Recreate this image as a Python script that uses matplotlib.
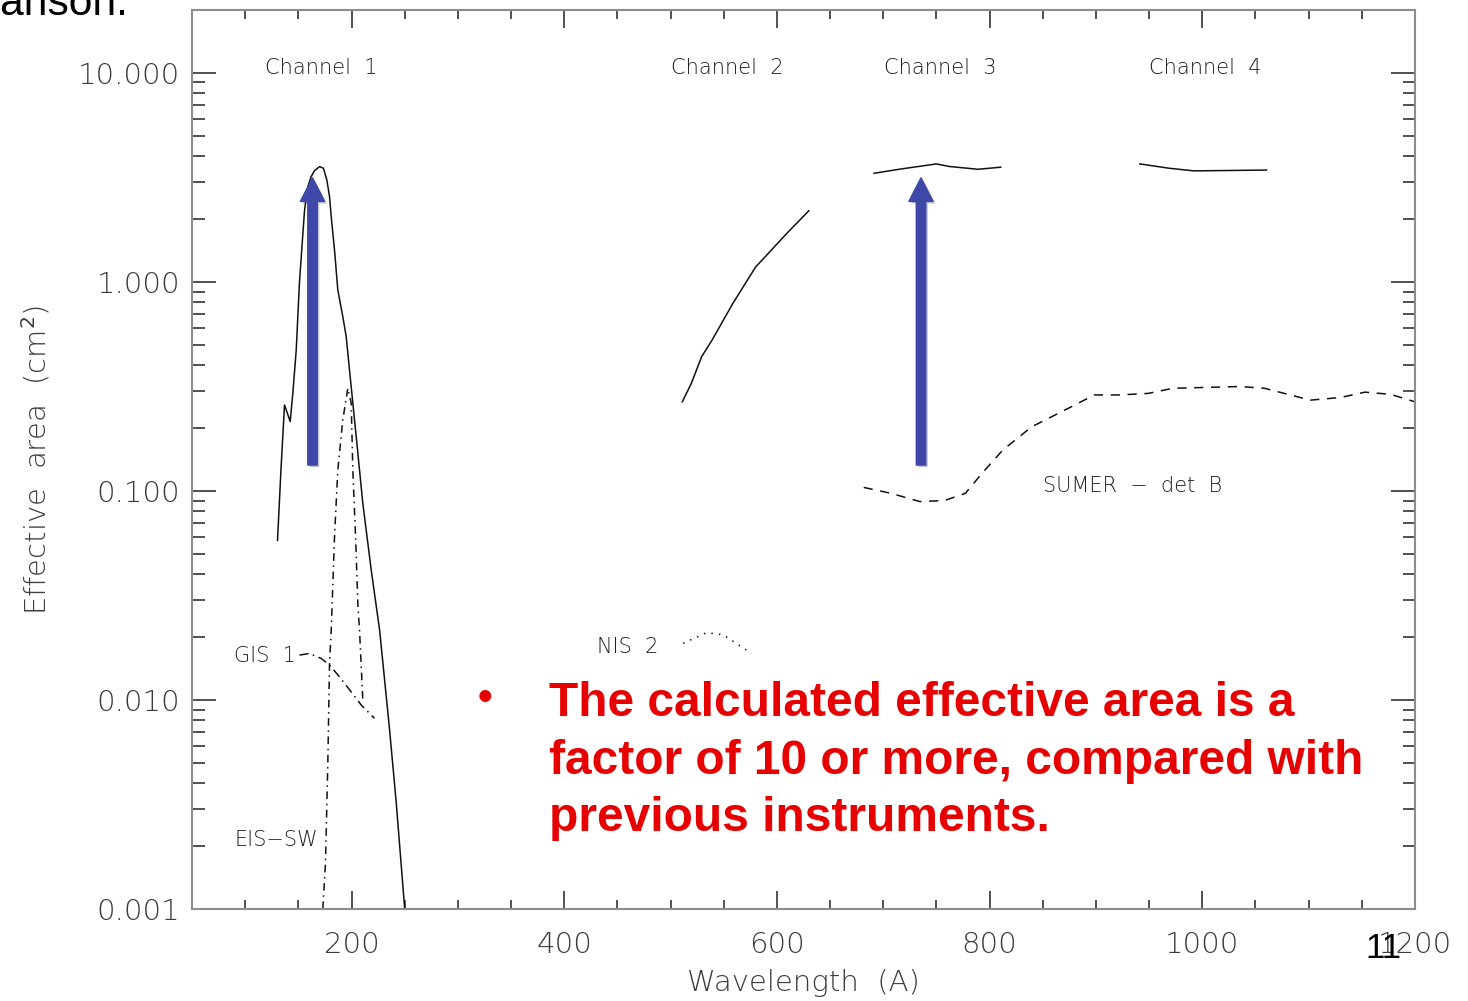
#!/usr/bin/env python3

import matplotlib
matplotlib.use('Agg')
import matplotlib.pyplot as plt
import matplotlib.patheffects as pe
from matplotlib.ticker import MultipleLocator, LogLocator, FormatStrFormatter, NullFormatter

# channel 1 (solid)
ch1_wave = [130.4, 133.8, 137.0, 142.3, 144.8, 148.0, 151.0, 153.6, 155.8, 158.9, 162.0,
            165.2, 169.9, 173.6, 176.8, 179.3, 180.9, 184.0, 187.1, 191.8, 195.0, 198.1,
            204.4, 210.6, 218.5, 226.4, 235.8, 242.1, 250.0]
ch1_area = [0.058, 0.131, 0.258, 0.215, 0.293, 0.473, 0.99, 1.53, 2.2, 2.86, 3.19,
            3.41, 3.56, 3.5, 3.07, 2.56, 2.05, 1.42, 0.916, 0.682, 0.547, 0.379,
            0.182, 0.0873, 0.0419, 0.0216, 0.00718, 0.0032, 0.001]

# channel 2
ch2_wave = [511.0, 519.5, 529.3, 539.0, 558.6, 580.0, 585.9, 609.4, 630.0]
ch2_area = [0.267, 0.327, 0.44, 0.527, 0.79, 1.18, 1.27, 1.71, 2.19]

# channel 3
ch3_wave = [691.3, 714.8, 750.0, 761.7, 789.0, 810.4]
ch3_area = [3.31, 3.46, 3.67, 3.57, 3.46, 3.54]

# channel 4
ch4_wave = [941.3, 968.7, 992.0, 1060.4]
ch4_area = [3.67, 3.5, 3.4, 3.43]

# SUMER det B (dashed)
sumer_wave = [681.6, 707.0, 734.3, 757.7, 777.3, 793.0, 812.4, 839.7, 870.9, 898.4,
              921.8, 949.2, 972.5, 1034.8, 1058.4, 1089.7, 1101.6, 1129.9, 1153.0, 1177.0, 1200.0]
sumer_area = [0.104, 0.0975, 0.089, 0.09, 0.0975, 0.1217, 0.157, 0.203, 0.244, 0.288,
              0.288, 0.293, 0.31, 0.316, 0.31, 0.282, 0.272, 0.28, 0.297, 0.29, 0.267]

# EIS-SW (dash dot)
eis_wave = [173.0, 175.5, 177.7, 179.3, 180.9, 181.8, 184.0, 187.1, 191.8, 196.5,
            199.7, 201.2, 203.8, 205.9, 207.5, 210.6]
eis_area = [0.001, 0.00166, 0.00498, 0.015, 0.0216, 0.029, 0.0604, 0.126, 0.219, 0.31,
            0.263, 0.126, 0.0604, 0.029, 0.0216, 0.01]

# GIS 1
gis_wave = [151.1, 160.5, 171.5, 179.3, 188.7, 198.1, 209.1, 221.6]
gis_area = [0.0164, 0.0167, 0.0158, 0.0147, 0.0129, 0.0112, 0.00946, 0.00817]

# NIS 2 (dotted)
nis_wave = [511.8, 533.8, 549.5, 576.2]
nis_area = [0.01866, 0.021, 0.0205, 0.0167]

channel_names = ['Channel  1', 'Channel  2', 'Channel  3', 'Channel  4']
channel_pos = [171.8, 553.0, 753.4, 1003.0]

arrow_x = [163.3, 735.5]
arrow_from, arrow_to = 0.133, 3.15

red_lines = ['The calculated effective area is a',
             'factor of 10 or more, compared with',
             'previous instruments.']

ink = '#111111'
grey = '#3c3c3c'
fam = 'DejaVu Sans'

fig = plt.figure(figsize=(14.68, 10.01), dpi=100)
ax = fig.add_axes([0.1308, 0.0919, 0.8331, 0.8981])
ax.set_yscale('log')
ax.set_xlim(50, 1200)
ax.set_ylim(0.001, 20)

lw = 1.1
ax.plot(ch1_wave, ch1_area, color=ink, lw=lw)
ax.plot(ch2_wave, ch2_area, color=ink, lw=lw)
ax.plot(ch3_wave, ch3_area, color=ink, lw=lw)
ax.plot(ch4_wave, ch4_area, color=ink, lw=lw)
ax.plot(sumer_wave, sumer_area, color=ink, lw=lw, linestyle=(0, (6, 5)))
ax.plot(eis_wave, eis_area, color=ink, lw=lw, linestyle=(0, (5, 3, 1, 3)))
ax.plot(gis_wave, gis_area, color=ink, lw=lw, linestyle=(0, (6, 3, 1, 3)))
ax.plot(nis_wave, nis_area, color=ink, lw=lw, linestyle=(0, (1, 4)))

lab_kw = dict(fontsize=15, color='#1e1e1e', family=fam, fontweight='light')
for name, xp in zip(channel_names, channel_pos):
    ax.text(xp, 10.6, name, ha='center', va='center', **lab_kw)

ax.text(89.9, 0.0162, 'GIS  1', ha='left', va='center', **lab_kw)
ax.text(89.9, 0.00213, 'EIS\u2212SW', ha='left', va='center', **lab_kw)
ax.text(430.6, 0.018, 'NIS  2', ha='left', va='center', **lab_kw)
ax.text(850.4, 0.106, 'SUMER  \u2212  det  B', ha='left', va='center', **lab_kw)

for xa in arrow_x:
    ax.annotate('', xy=(xa, arrow_to), xytext=(xa, arrow_from),
                arrowprops=dict(arrowstyle='simple,head_length=1.7,head_width=1.75,tail_width=0.68',
                                mutation_scale=10, color='#3f48a9', shrinkA=0, shrinkB=0,
                                path_effects=[pe.SimplePatchShadow(offset=(1.5, -1.5), alpha=0.25),
                                              pe.Normal()]))

# axes look
for sp in ax.spines.values():
    sp.set_color('#8c8c8c')
    sp.set_linewidth(1.5)
ax.xaxis.set_major_locator(MultipleLocator(200))
ax.xaxis.set_minor_locator(MultipleLocator(50))
ax.yaxis.set_major_locator(LogLocator(base=10))
ax.yaxis.set_minor_locator(LogLocator(base=10, subs=range(2, 10)))
ax.yaxis.set_major_formatter(FormatStrFormatter('%.3f'))
ax.yaxis.set_minor_formatter(NullFormatter())
ax.tick_params(which='both', direction='in', top=True, right=True, color='#333', width=1.2)
ax.tick_params(axis='x', which='major', length=13, pad=16, labelsize=21, labelcolor=grey)
ax.tick_params(axis='x', which='minor', length=6.5)
ax.tick_params(axis='y', which='major', length=17, pad=8.5, labelsize=21, labelcolor=grey)
ax.tick_params(axis='y', which='minor', length=9)
for lab in ax.get_xticklabels() + ax.get_yticklabels():
    lab.set_family(fam)
    lab.set_fontweight('light')

ax.set_xlabel('Wavelength  (A)', fontsize=21, color=grey, family=fam, fontweight='light', labelpad=7)
ax.set_ylabel('Effective  area  (cm$^2$)', fontsize=21, color=grey, family=fam, fontweight='light',
              labelpad=18)

# slide text
W, H = 1468, 1001
fig.text(128 / W, 1 - 15 / H, 'comparison.', ha='right', va='baseline', fontsize=30.7,
         family='Liberation Sans', color='black')
fig.text(1365 / W, 1 - 958 / H, '11', ha='left', va='baseline', fontsize=25,
         family='Liberation Sans', color='black')
fig.text(485 / W, 1 - 699 / H, '\u2022', ha='center', va='center', fontsize=30,
         family='Liberation Sans', color='#e60000', fontweight='bold')
for i, line in enumerate(red_lines):
    fig.text(549 / W, 1 - (716 + 57.5 * i) / H, line, ha='left', va='baseline', fontsize=34.5,
             family='Liberation Sans', color='#e60000', fontweight='bold')

fig.savefig('out.png', dpi=100)
